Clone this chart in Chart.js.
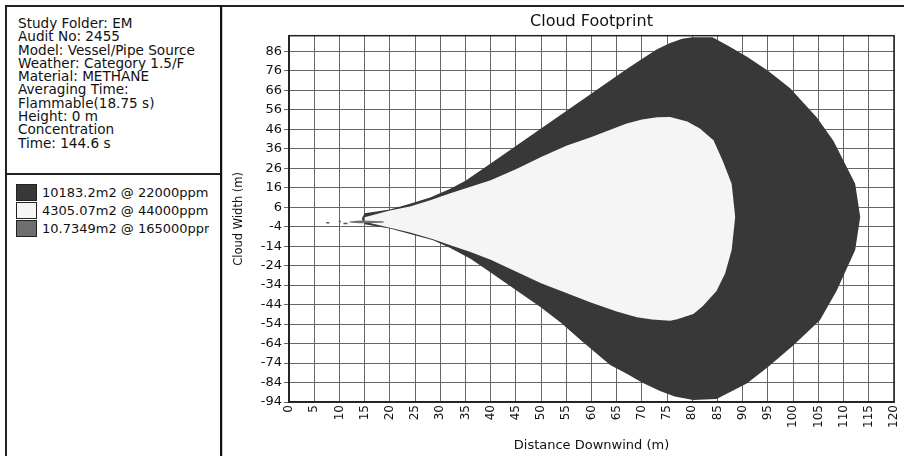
<!DOCTYPE html>
<html lang="en">

<head>
  <title>Cloud Footprint</title>
  <meta charset="UTF-8">
  <script src="https://cdn.jsdelivr.net/npm/chart.js@4.4.1/dist/chart.umd.min.js"></script>
  <style>
    body { margin: 0; width: 904px; height: 456px; position: relative; background: #fff; overflow: hidden;
      font-family: "DejaVu Sans", sans-serif; color: #111; }
    .topline { position: absolute; left: 5px; top: 5px; width: 899px; height: 0; border-top: 2px solid #222; }
    .panel { position: absolute; left: 5px; top: 5px; width: 213px; height: 460px;
      border-left: 2px solid #222; border-right: 2px solid #111; }
    .sep { position: absolute; left: 5px; top: 173px; width: 215px; border-top: 2px solid #222; }
    .grayline { position: absolute; left: 222px; top: 7px; height: 449px; border-left: 1px solid #c8c8c8; }
    #info { position: absolute; left: 18px; top: 17px; font-size: 13.6px; line-height: 13.3px; white-space: pre; }
    #legend { position: absolute; left: 16px; top: 183px; width: 193px; overflow: hidden; font-size: 13px; }
    .row { height: 18.3px; display: flex; align-items: center; white-space: nowrap; }
    .box { width: 19px; height: 15px; border: 1px solid #222; margin-right: 5px; flex: none; }
    #wrap { position: absolute; left: 222px; top: 0; width: 682px; height: 456px; }
  </style>
</head>

<body>
  <div class="topline"></div>
  <div class="panel"></div>
  <div class="sep"></div>
  <div class="grayline"></div>
  <div id="info"></div>
  <div id="legend"></div>
  <div id="wrap"><canvas id="myChart" width="682" height="456"></canvas></div>
  <script>
    const infoLines = ["Study Folder: EM", "Audit No: 2455", "Model: Vessel/Pipe Source", "Weather: Category 1.5/F",
      "Material: METHANE", "Averaging Time:", "Flammable(18.75 s)", "Height: 0 m", "Concentration", "Time: 144.6 s"];

    const areas = ["10183.2m2", "4305.07m2", "10.7349m2"];
    const levels = ["22000ppm", "44000ppm", "165000ppm"];
    const fills = ["#383838", "#f5f5f5", "#6e6e6e"];

    const yTicks = [-94, -84, -74, -64, -54, -44, -34, -24, -14, -4, 6, 16, 26, 36, 46, 56, 66, 76, 86];

    // 22000 ppm contour (outer, dark)
    const outerDist = [14.5, 15, 20, 24, 28, 32, 35, 40, 45, 50, 56, 60, 64, 67, 70, 73, 75.6, 78, 80, 84, 87, 91,
      95, 99.4, 104.7, 108, 112.3, 113.3, 112.3, 108.6, 105.3, 100, 95, 90.8, 84.8, 80.2, 76.5, 73.6, 70, 67, 63.7,
      58, 54, 50, 45, 40, 36, 32, 28.6, 24, 20, 15, 14.5];
    const outerWidth = [0.5, 2.9, 4.8, 7.8, 11, 15.5, 19.5, 28.4, 37.4, 46.4, 57.1, 64.3, 71.5, 76.9, 82, 87, 90.3,
      92.4, 93.2, 93.2, 89, 83, 76, 67, 52, 40, 18, 1, -16, -37, -52, -65, -76, -84.5, -92.5, -93, -91.2, -88.3,
      -84, -79.5, -75, -62.5, -53.5, -45.5, -36.5, -27.5, -20.5, -15, -11, -7.8, -5, -2.8, -0.5];

    // 44000 ppm contour (inner, light)
    const innerDist = [15, 20, 24, 28, 32, 36, 40, 45, 50, 55, 60, 64, 67, 70, 73, 75.6, 79, 81.5, 84.2, 86, 87.8,
      88.5, 87.8, 86.5, 84.8, 82, 80.2, 77, 75.6, 72, 69, 65, 60, 55, 50, 45, 40, 36, 32, 28.6, 24, 20, 15];
    const innerWidth = [0.8, 4.3, 6.4, 9.5, 13.2, 16.5, 19.8, 25.5, 31.8, 37.5, 42, 46, 49, 51, 52.2, 52.3, 50, 46.4,
      40.3, 30, 18, 1, -16, -28, -37, -45, -48.8, -51.5, -52.3, -51.6, -50.5, -47.5, -43, -38, -33, -27, -21, -17,
      -13.6, -10.5, -7, -4.6, -1.5];

    // 165000 ppm contour (core streak)
    const coreDist = [12, 14, 18.5, 19, 18.5, 14, 12];
    const coreWidth = [-1.4, -0.9, -1.2, -1.6, -2.0, -2.2, -1.9];

    // small fragments left of the core
    const fragDist = [7.4, 8.0, 9, 9.9, 10.3, 10.6, 10.8, 11.6, 11.8];
    const fragWidth = [-2.0, -2.0, null, -1.3, -1.3, null, -2.4, -2.4, null];

    const pts = (xs, ys) => xs.map((x, i) => ({ x: x, y: ys[i] }));

    document.getElementById("info").textContent = infoLines.join("\n");
    document.getElementById("legend").innerHTML = areas.map((a, i) =>
      '<div class="row"><div class="box" style="background:' + fills[i] + '"></div>' + a + ' @ ' + levels[i] + '</div>').join("");

    Chart.defaults.font.family = "DejaVu Sans";
    Chart.defaults.color = "#111";

    const framePlugin = {
      id: "frame",
      afterDraw(chart) {
        const a = chart.chartArea;
        const ctx = chart.ctx;
        ctx.save();
        ctx.strokeStyle = "#222";
        ctx.lineWidth = 1.5;
        ctx.strokeRect(a.left, a.top, a.right - a.left, a.bottom - a.top);
        ctx.restore();
      }
    };

    new Chart("myChart", {
      type: "scatter",
      data: {
        datasets: [{
          label: areas[0] + " @ " + levels[0],
          data: pts(outerDist, outerWidth),
          showLine: true,
          fill: "shape",
          backgroundColor: fills[0],
          borderColor: fills[0],
          borderWidth: 0,
          pointRadius: 0,
          order: 4
        }, {
          label: areas[1] + " @ " + levels[1],
          data: pts(innerDist, innerWidth),
          showLine: true,
          fill: "shape",
          backgroundColor: fills[1],
          borderColor: fills[1],
          borderWidth: 0,
          pointRadius: 0,
          order: 3
        }, {
          label: areas[2] + " @ " + levels[2],
          data: pts(coreDist, coreWidth),
          showLine: true,
          fill: "shape",
          backgroundColor: fills[2],
          borderColor: fills[2],
          borderWidth: 0,
          pointRadius: 0,
          order: 2
        }, {
          label: "fragments",
          data: pts(fragDist, fragWidth),
          showLine: true,
          fill: false,
          borderColor: "#555",
          borderWidth: 1.5,
          pointRadius: 0,
          order: 1
        }]
      },
      options: {
        responsive: false,
        animation: false,
        layout: { padding: { left: 0, right: 10, top: 0, bottom: 0 } },
        plugins: {
          legend: { display: false },
          tooltip: { enabled: false },
          title: {
            display: true,
            text: "Cloud Footprint",
            fullSize: false,
            font: { size: 16, weight: "normal" },
            color: "#111",
            padding: { top: 12, bottom: 4.5 }
          }
        },
        scales: {
          x: {
            type: "linear",
            min: 0,
            max: 120,
            ticks: { stepSize: 5, minRotation: 90, maxRotation: 90, autoSkip: false, padding: 3, font: { size: 12 }, color: "#111" },
            grid: { color: "#666", drawTicks: false },
            border: { color: "#222", width: 1.5 },
            title: { display: true, text: "Distance Downwind (m)", font: { size: 13 }, color: "#111", padding: { top: 0, bottom: 3 } },
            afterFit: function (scale) {
              scale.height = 54;
              scale.paddingLeft = 0;
              scale.paddingRight = 0;
            }
          },
          y: {
            type: "linear",
            min: -94,
            max: 94,
            afterBuildTicks: function (scale) {
              scale.ticks = yTicks.map(v => ({ value: v }));
            },
            ticks: { autoSkip: false, padding: 2, font: { size: 13 }, color: "#111" },
            grid: { color: "#666", tickLength: 5 },
            border: { color: "#222", width: 1.5 },
            title: { display: true, text: "Cloud Width (m)", font: { size: 11.5 }, color: "#111", padding: { top: 10, bottom: 0 } },
            afterFit: function (scale) {
              scale.width = 67;
              scale.paddingTop = 0;
              scale.paddingBottom = 0;
            }
          }
        }
      },
      plugins: [framePlugin]
    });
  </script>
</body>

</html>
